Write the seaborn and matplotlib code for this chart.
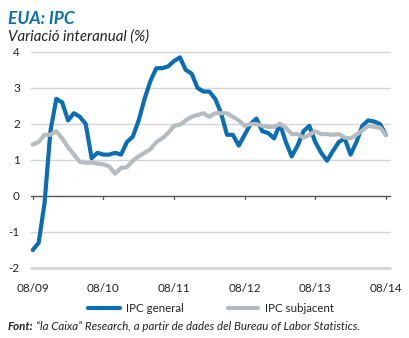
import matplotlib
matplotlib.use("Agg")
import matplotlib.pyplot as plt
import seaborn as sns
import pandas as pd
import numpy as np

# Monthly data, Aug 2009 - Aug 2014
ipc_general = [-1.5, -1.3, -0.2, 1.8, 2.7,
               2.6, 2.1, 2.3, 2.2, 2.0, 1.05, 1.2, 1.15, 1.15, 1.2, 1.15, 1.5,
               1.65, 2.1, 2.7, 3.2, 3.55, 3.55, 3.6, 3.75, 3.85, 3.5, 3.4, 3.0,
               2.9, 2.9, 2.7, 2.3, 1.7, 1.7, 1.4, 1.7, 2.0, 2.15, 1.8, 1.75,
               1.6, 2.0, 1.5, 1.1, 1.4, 1.8, 1.95, 1.5, 1.2, 0.98, 1.25, 1.5,
               1.6, 1.15, 1.5, 1.95, 2.1, 2.07, 2.0, 1.7]
ipc_subjacent = [1.43, 1.5, 1.7, 1.7, 1.8,
                 1.6, 1.35, 1.15, 0.95, 0.92, 0.93, 0.9, 0.88, 0.82, 0.62, 0.78, 0.8,
                 0.98, 1.1, 1.2, 1.3, 1.5, 1.6, 1.75, 1.95, 1.98, 2.1, 2.2, 2.25,
                 2.3, 2.2, 2.3, 2.3, 2.3, 2.2, 2.1, 1.95, 2.0, 2.0, 1.95, 1.92,
                 1.92, 2.0, 1.9, 1.72, 1.72, 1.62, 1.7, 1.8, 1.72, 1.72, 1.7, 1.72,
                 1.62, 1.6, 1.7, 1.82, 1.95, 1.92, 1.9, 1.7]
tick_labels = ["08/09", "08/10", "08/11", "08/12", "08/13", "08/14"]
series_names = ["IPC general", "IPC subjacent"]

BLUE = "#0b6db3"
GRAY = "#b5bcc0"

n = len(ipc_general)
df = pd.DataFrame({
    "mes": list(range(n)) * 2,
    "valor": ipc_general + ipc_subjacent,
    "serie": [series_names[0]] * n + [series_names[1]] * n,
})

sns.set_style("white")
plt.rcParams["font.family"] = ["Lato", "DejaVu Sans"]

fig = plt.figure(figsize=(4.10, 3.38), dpi=100)
ax = fig.add_axes([31/410, 1-268/338, (390-31)/410, (268-52)/338])

for y in [-1, 1, 2, 3, 4]:
    ax.axhline(y, color="#d4d4d4", lw=1.0, zorder=0)
ax.axhline(-2, color="#d4d4d4", lw=2.0, zorder=0)
ax.axhline(0, color="#555555", lw=1.0, zorder=1)

sns.lineplot(data=df, x="mes", y="valor", hue="serie",
             hue_order=series_names,
             palette={series_names[0]: BLUE, series_names[1]: GRAY},
             lw=3.0, ax=ax, legend=False, zorder=3)
for l in ax.get_lines():
    l.set_clip_on(False)

ax.set_xlim(-0.3, 60.7)
ax.set_ylim(-2, 4)
for s in ax.spines.values():
    s.set_visible(False)
ax.set_xlabel("")
ax.set_ylabel("")
ax.set_yticks([-2, -1, 0, 1, 2, 3, 4])
ax.set_yticklabels(["-2", "-1", "0", "1", "2", "3", "4"], fontsize=8.5, color="#222222")
ax.tick_params(axis="y", length=0, pad=8)
ax.set_xticks([0, 12, 24, 36, 48, 60])
ax.set_xticklabels(tick_labels, fontsize=8.5, color="#222222")
ax.tick_params(axis="x", length=0, pad=11)
for xt in [0, 12, 24, 36, 48, 60]:
    ax.plot([xt, xt], [0, -0.07], color="#555555", lw=0.9, zorder=1, clip_on=False)

fig.text(8/410, 1-19/338, "EUA: IPC", fontsize=12.5, fontweight="bold", fontstyle="italic",
         color=BLUE, va="center", ha="left")
fig.text(8/410, 1-37/338, "Variació interanual (%)", fontsize=10.8, fontstyle="italic",
         color="#222222", va="center", ha="left")

# legend
ly = 1-308/338
fig.add_artist(plt.Line2D([88/410, 120/410], [ly, ly], color=BLUE, lw=3.0))
fig.text(126/410, ly, series_names[0], fontsize=8.3, va="center", ha="left", color="#222222")
fig.add_artist(plt.Line2D([228/410, 258/410], [ly, ly], color=GRAY, lw=3.0))
fig.text(265/410, ly, series_names[1], fontsize=8.3, va="center", ha="left", color="#222222")

sy = 1-326/338
t1 = fig.text(8/410, sy, "Font:", fontsize=8.3, fontweight="bold", fontstyle="italic",
              va="center", ha="left", color="#222222")
fig.canvas.draw()
bb = t1.get_window_extent()
fig.text(bb.x1/410 + 2/410, sy,
         "\u201cla Caixa\u201d Research, a partir de dades del Bureau of Labor Statistics.",
         fontsize=8.3, fontstyle="italic", va="center", ha="left", color="#222222")

fig.savefig("out.png", dpi=100)
